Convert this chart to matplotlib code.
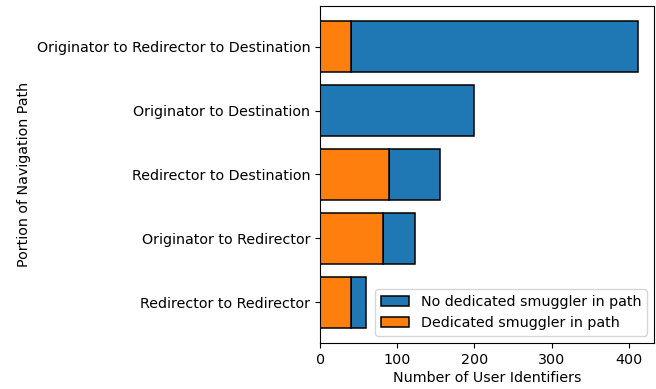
import matplotlib
matplotlib.use("Agg")
import matplotlib.pyplot as plt
import numpy as np

# categories listed top to bottom
paths = [
    "Originator to Redirector to Destination",
    "Originator to Destination",
    "Redirector to Destination",
    "Originator to Redirector",
    "Redirector to Redirector",
]
dedicated = [40, 0, 89, 81, 40]
no_dedicated = [372, 200, 66, 42, 20]


def main():
    plt.rcParams["font.family"] = ["DejaVu Sans"]
    plt.rcParams["font.size"] = 10.3
    fig, ax = plt.subplots(figsize=(6.56, 3.89), dpi=100)
    y = np.arange(len(paths))

    ax.barh(y, no_dedicated, left=dedicated, color="#1f77b4", edgecolor="black",
            linewidth=1.1, label="No dedicated smuggler in path")
    ax.barh(y, dedicated, color="#ff7f0e", edgecolor="black",
            linewidth=1.1, label="Dedicated smuggler in path")

    ax.set_yticks(y)
    ax.set_yticklabels(paths)
    ax.invert_yaxis()
    ax.set_xlabel("Number of User Identifiers", labelpad=3)
    ax.set_ylabel("Portion of Navigation Path")
    ax.legend(loc="lower right")

    fig.subplots_adjust(left=0.488, right=0.997, top=0.985, bottom=0.118)
    fig.savefig("out.png")


if __name__ == "__main__":
    main()
